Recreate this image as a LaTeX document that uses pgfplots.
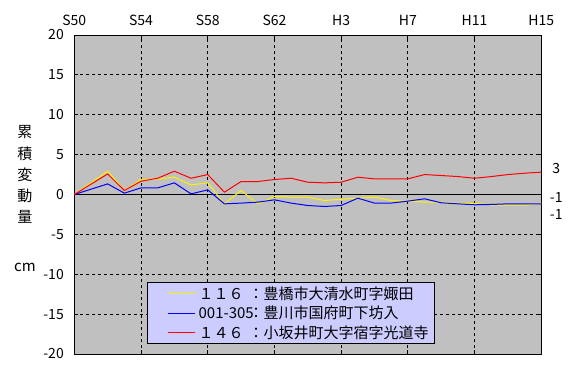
\documentclass[border=0pt]{standalone}
\usepackage{fontspec}
\setmainfont{Noto Sans CJK JP}
\usepackage{pgfplots}
\pgfplotsset{compat=1.18}
\definecolor{bggray}{RGB}{192,192,192}
\definecolor{legfill}{RGB}{204,204,255}
\begin{document}
\begin{tikzpicture}[font=\fontsize{14bp}{16bp}\selectfont]
\useasboundingbox (-74.3bp,-25bp) rectangle (507.7bp,354bp);
\begin{axis}[
  at={(0,0)}, anchor=south west,
  scale only axis, width=467bp, height=319bp,
  xmin=1975, xmax=2003, ymin=-20, ymax=20,
  xtick={1975,1979,1983,1987,1991,1995,1999,2003},
  xticklabels={S50,S54,S58,S62,H3,H7,H11,H15},
  xticklabel pos=upper,
  xticklabel style={yshift=6bp},
  ytick={-20,-15,-10,-5,0,5,10,15,20},
  yticklabels={-20,-15,-10,-5,0,5,10,15,20},
  yticklabel style={xshift=-7bp},
  extra y ticks={0}, extra y tick labels={},
  extra y tick style={grid style={solid, black, line width=1bp}},
  grid=major,
  grid style={black, line width=0.8bp, dash pattern=on 3bp off 3bp},
  axis line style={black, line width=1bp},
  tick style={black, line width=0.8bp},
  major tick length=4bp,
  axis background/.style={fill=bggray},
  clip=false,
  legend style={at={(rel axis cs:0.156,0.2257)}, anchor=north west,
    fill=legfill, draw=black, line width=1bp, inner xsep=3bp, inner ysep=1bp,
    row sep=-0.5bp,
    nodes={inner sep=3bp, font=\fontsize{15bp}{17bp}\selectfont}},
  legend cell align=left,
  legend image code/.code={\path (0bp,0bp); \draw[#1, line width=1bp] (17bp,0bp) -- (44bp,0bp);},
]
\addplot[yellow, line width=1bp] coordinates {
(1975,0) (1977,2.92) (1978,0.5) (1979,1.88) (1980,1.95) (1981,2.17) (1982,1.2)
(1983,1.46) (1984,-1.17) (1985,0.5) (1986,-1.17) (1987,-0.25) (1988,-0.33)
(1989,-0.33) (1990,-0.75) (1991,-0.6) (1992,-0.46) (1993,-0.33) (1994,-0.75)
(1995,-0.83) (1996,-0.96) (1997,-0.96) (1998,-1.1) (1999,-1.1) (2000,-1.33)
(2001,-1.33) (2002,-1.33) (2003,-1.1)};
\addlegendentry{\makebox[50bp][l]{\rlap{１１６}}：豊橋市大清水町字娵田}
\addplot[blue, line width=1bp] coordinates {
(1975,0) (1977,1.33) (1978,0.17) (1979,0.83) (1980,0.83) (1981,1.46) (1982,0.08)
(1983,0.58) (1984,-1.17) (1985,-1.08) (1986,-0.96) (1987,-0.67) (1988,-1.08)
(1989,-1.38) (1990,-1.5) (1991,-1.38) (1992,-0.46) (1993,-1.08) (1994,-1.08)
(1995,-0.83) (1996,-0.54) (1997,-1.04) (1998,-1.17) (1999,-1.29) (2000,-1.25)
(2001,-1.17) (2002,-1.17) (2003,-1.17)};
\addlegendentry{\makebox[50bp][l]{\rlap{001-305}}：豊川市国府町下坊入}
\addplot[red, line width=1bp] coordinates {
(1975,0) (1977,2.58) (1978,0.5) (1979,1.67) (1980,2.04) (1981,2.92) (1982,2.04)
(1983,2.5) (1984,0.29) (1985,1.63) (1986,1.63) (1987,1.88) (1988,2.04)
(1989,1.54) (1990,1.46) (1991,1.54) (1992,2.17) (1993,1.96) (1994,1.96)
(1995,1.96) (1996,2.5) (1997,2.38) (1998,2.25) (1999,2.04) (2000,2.25)
(2001,2.5) (2002,2.67) (2003,2.8)};
\addlegendentry{\makebox[50bp][l]{\rlap{１４６}}：小坂井町大字宿字光道寺}
\node at (axis cs:2003.9,3.3) {3};
\node at (axis cs:2003.9,-0.4) {-1};
\node at (axis cs:2003.9,-2.5) {-1};
\end{axis}
\begin{scope}[font=\fontsize{15bp}{17bp}\selectfont]
\node at (-49.3bp,222bp) {累};
\node at (-49.3bp,200bp) {積};
\node at (-49.3bp,179bp) {変};
\node at (-49.3bp,158bp) {動};
\node at (-49.3bp,137bp) {量};
\node at (-49.3bp,87bp) {cm};
\end{scope}
\end{tikzpicture}
\end{document}
